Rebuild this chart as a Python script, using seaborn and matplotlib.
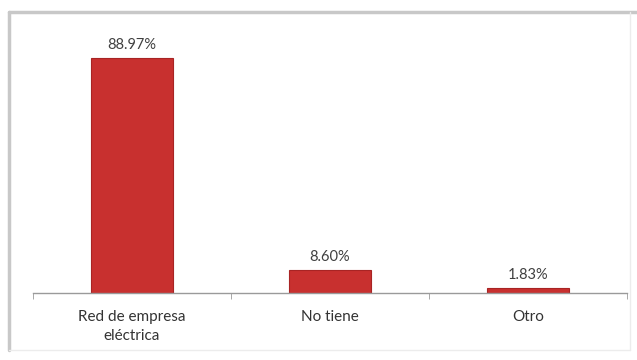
import numpy as np
import pandas as pd
import matplotlib
matplotlib.use("Agg")
import matplotlib.pyplot as plt
import seaborn as sns
from matplotlib.lines import Line2D

categorias = ["Red de empresa\neléctrica", "No tiene", "Otro"]
porcentajes = [88.97, 8.60, 1.83]
etiquetas = ["88.97%", "8.60%", "1.83%"]

df = pd.DataFrame({"categoria": categorias, "pct": porcentajes})

sns.set_style("white")
plt.rcParams["font.family"] = ["Lato", "DejaVu Sans"]

fig = plt.figure(figsize=(6.37, 3.6), dpi=100)
ax = fig.add_axes([33 / 637, 1 - 293 / 360, (627 - 33) / 637, (293 - 29) / 360])

sns.barplot(data=df, x="categoria", y="pct", color="#c8302f", saturation=1,
            width=0.41, edgecolor="#a82424", linewidth=0.8, ax=ax)

for i, (v, t) in enumerate(zip(porcentajes, etiquetas)):
    ax.text(i, v + 2.2, t, ha="center", va="bottom", fontsize=10.5, color="#404040")

ax.set_xlim(-0.5, 2.5)
ax.set_ylim(0, 100)
ax.set_xlabel("")
ax.set_ylabel("")
ax.set_yticks([])
for s in ["top", "right", "left"]:
    ax.spines[s].set_visible(False)
ax.spines["bottom"].set_color("#9a9a9a")
ax.spines["bottom"].set_linewidth(1.0)
ax.tick_params(axis="x", which="major", length=0, pad=12, labelsize=11, labelcolor="#333333")
for lbl in ax.get_xticklabels():
    lbl.set_linespacing(1.5)
ax.set_xticks([-0.5, 0.5, 1.5, 2.5], minor=True)
ax.tick_params(axis="x", which="minor", length=4, color="#9a9a9a", bottom=True)

# marco del gráfico
fig.add_artist(Line2D([9 / 637, 9 / 637], [1 - 350 / 360, 1 - 12 / 360], color="#c8c8c8", lw=2.5))
fig.add_artist(Line2D([9 / 637, 1], [1 - 12 / 360, 1 - 12 / 360], color="#c8c8c8", lw=2.5))
fig.add_artist(Line2D([630 / 637, 630 / 637], [1 - 350 / 360, 1 - 12 / 360], color="#ececec", lw=1))
fig.add_artist(Line2D([9 / 637, 630 / 637], [1 - 350 / 360, 1 - 350 / 360], color="#ececec", lw=1))

fig.savefig("out.png", dpi=100)
